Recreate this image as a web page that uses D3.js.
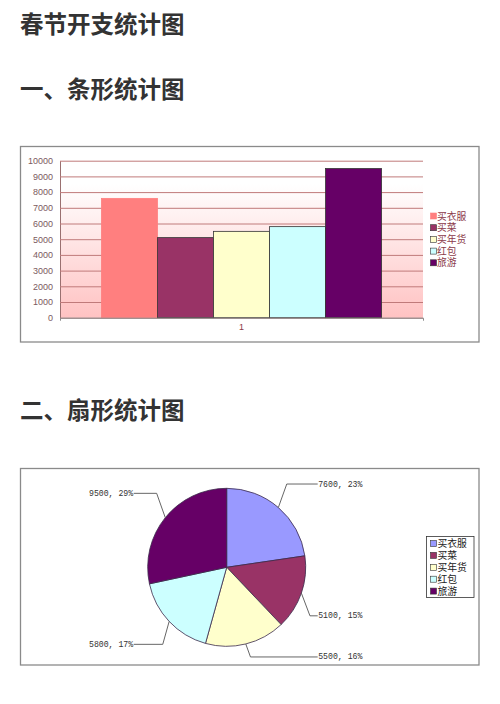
<!DOCTYPE html>
<html>
<head>
<meta charset="utf-8">
<script src="https://cdn.jsdelivr.net/npm/d3@7"></script>
<style>
  html, body { margin: 0; padding: 0; background: #fff; }
  svg { display: block; }
</style>
</head>
<body>
<div id="chart"></div>
<script>
const categories = ["买衣服", "买菜", "买年货", "红包", "旅游"];
const amounts = [7600, 5100, 5500, 5800, 9500];
const pctLabels = ["23%", "15%", "16%", "17%", "29%"];
const yTicks = [0, 1000, 2000, 3000, 4000, 5000, 6000, 7000, 8000, 9000, 10000];
const xLabels = ["1"];

const barColors = ["#ff7f7f", "#993366", "#ffffcc", "#ccffff", "#660066"];
const pieColors = ["#9999ff", "#993366", "#ffffcc", "#ccffff", "#660066"];

const W = 500, H = 704;
const cjk = "'Noto Sans CJK SC', 'Noto Sans', sans-serif";
// legend rows are tight, so a latin font with short line metrics comes first
const legendFont = "'Liberation Sans', 'Noto Sans CJK SC', sans-serif";

const svg = d3.select("#chart").append("svg")
  .attr("width", W)
  .attr("height", H)
  .attr("viewBox", `0 0 ${W} ${H}`);

// headings
const headings = [
  { text: "春节开支统计图", y: 33 },
  { text: "一、条形统计图", y: 98 },
  { text: "二、扇形统计图", y: 419 }
];
svg.selectAll("text.heading")
  .data(headings)
  .enter()
  .append("text")
  .attr("class", "heading")
  .attr("x", 20)
  .attr("y", (d) => d.y)
  .attr("fill", "#333")
  .style("font-family", cjk)
  .style("font-size", "23.5px")
  .style("font-weight", "bold")
  .text((d) => d.text);

// ---------- bar chart ----------
svg.append("rect")
  .attr("x", 20.5).attr("y", 146.5)
  .attr("width", 458.5).attr("height", 195.5)
  .attr("fill", "#fff")
  .attr("stroke", "#8a8a8a")
  .attr("stroke-width", 1.3);

const plot = { left: 60, right: 423, top: 160.7, bottom: 317.7 };

const grad = svg.append("defs")
  .append("linearGradient")
  .attr("id", "plotBg")
  .attr("x1", 0).attr("y1", 0).attr("x2", 0).attr("y2", 1);
grad.append("stop").attr("offset", "0%").attr("stop-color", "#ffffff");
grad.append("stop").attr("offset", "15%").attr("stop-color", "#ffffff");
grad.append("stop").attr("offset", "100%").attr("stop-color", "#ffc2c2");

svg.append("rect")
  .attr("x", plot.left).attr("y", plot.top)
  .attr("width", plot.right - plot.left)
  .attr("height", plot.bottom - plot.top)
  .attr("fill", "url(#plotBg)");

const yScale = d3.scaleLinear()
  .domain([0, 10000])
  .range([plot.bottom, plot.top]);

const groupScale = d3.scaleBand()
  .domain(xLabels)
  .range([plot.left, plot.right]);

const barScale = d3.scaleBand()
  .domain(categories)
  .range([0, groupScale.bandwidth()])
  .paddingOuter(0.74)
  .paddingInner(0);

const yAxisG = svg.append("g")
  .attr("transform", `translate(${plot.left},0)`)
  .call(
    d3.axisLeft(yScale)
      .tickValues(yTicks)
      .tickSizeInner(-(plot.right - plot.left))
      .tickSizeOuter(0)
      .tickPadding(7)
      .tickFormat(d3.format("d"))
  );
yAxisG.select(".domain").attr("stroke", "#9a7070").attr("stroke-width", 1);
yAxisG.selectAll(".tick line").attr("stroke", "#c07a7a").attr("stroke-width", 1);
yAxisG.selectAll(".tick text")
  .attr("fill", "#7a5a60")
  .style("font-family", "'Liberation Sans', Arial, sans-serif")
  .style("font-size", "9px");

const barG = svg.append("g")
  .attr("transform", `translate(${groupScale(xLabels[0])},0)`);
barG.selectAll("rect")
  .data(amounts)
  .enter()
  .append("rect")
  .attr("x", (d, i) => barScale(categories[i]))
  .attr("y", (d) => yScale(d))
  .attr("width", barScale.bandwidth())
  .attr("height", (d) => yScale(0) - yScale(d))
  .attr("fill", (d, i) => barColors[i])
  .attr("stroke", (d, i) => (i === 0 ? "#ff7f7f" : "#333"))
  .attr("stroke-width", 0.8);

const xAxisG = svg.append("g")
  .attr("transform", `translate(0,${plot.bottom})`)
  .call(
    d3.axisBottom(groupScale)
      .tickSizeInner(0)
      .tickSizeOuter(3)
      .tickPadding(6)
  );
xAxisG.select(".domain").attr("stroke", "#8a8a8a");
xAxisG.selectAll(".tick text")
  .attr("fill", "#8b3a4a")
  .style("font-family", "'Liberation Sans', Arial, sans-serif")
  .style("font-size", "9px");

const barLegend = svg.append("g")
  .attr("transform", "translate(430,216)");
const barItems = barLegend.selectAll("g")
  .data(categories)
  .enter()
  .append("g")
  .attr("transform", (d, i) => `translate(0,${i * 11.7})`);
barItems.append("rect")
  .attr("x", 0.5).attr("y", -3)
  .attr("width", 6).attr("height", 6)
  .attr("fill", (d, i) => barColors[i])
  .attr("stroke", (d, i) => (i === 0 ? "#ff7f7f" : "#333"))
  .attr("stroke-width", 0.6);
barItems.append("text")
  .attr("x", 7)
  .attr("y", 3.6)
  .attr("fill", "#8b3a4a")
  .style("font-family", legendFont)
  .style("font-size", "9.8px")
  .text((d) => d);

// ---------- pie chart ----------
svg.append("rect")
  .attr("x", 20.5).attr("y", 468.5)
  .attr("width", 458.5).attr("height", 196.5)
  .attr("fill", "#fff")
  .attr("stroke", "#8a8a8a")
  .attr("stroke-width", 1.3);

const cx = 226.7, cy = 567.3, radius = 79;

const pie = d3.pie().sort(null).value((d) => d);
const arc = d3.arc().innerRadius(0).outerRadius(radius);
const arcs = pie(amounts);

const pieG = svg.append("g")
  .attr("transform", `translate(${cx},${cy})`);
pieG.selectAll("path")
  .data(arcs)
  .enter()
  .append("path")
  .attr("d", arc)
  .attr("fill", (d, i) => pieColors[i])
  .attr("stroke", "#3a2a4a")
  .attr("stroke-width", 0.8);

// leader line elbows, nudged from the slice edge like the original
const elbowNudge = [[8.4, -23.5], [8.6, 22.7], [4.7, 13], [-6.4, 22.9], [-8.6, -24.3]];

const labelG = pieG.append("g");
arcs.forEach((d, i) => {
  const mid = (d.startAngle + d.endAngle) / 2;
  const ex = radius * Math.sin(mid);
  const ey = -radius * Math.cos(mid);
  const bx = ex + elbowNudge[i][0];
  const by = ey + elbowNudge[i][1];
  const right = Math.sin(mid) > 0;
  const tx = right ? 91 : -93;

  labelG.append("path")
    .attr("d", `M${ex},${ey}L${bx},${by}L${tx},${by}`)
    .attr("fill", "none")
    .attr("stroke", "#555")
    .attr("stroke-width", 0.9);

  labelG.append("text")
    .attr("x", right ? tx + 0.5 : tx - 0.5)
    .attr("y", by)
    .attr("text-anchor", right ? "start" : "end")
    .attr("dominant-baseline", "central")
    .attr("fill", "#333")
    .style("font-family", "'Liberation Mono', 'DejaVu Sans Mono', monospace")
    .style("font-size", "8.2px")
    .text(`${amounts[i]}, ${pctLabels[i]}`);
});

const pieLegend = svg.append("g");
pieLegend.append("rect")
  .attr("x", 426.5).attr("y", 536.5)
  .attr("width", 47.5).attr("height", 61)
  .attr("fill", "#fff")
  .attr("stroke", "#333")
  .attr("stroke-width", 0.8);
const pieItems = pieLegend.selectAll("g")
  .data(categories)
  .enter()
  .append("g")
  .attr("transform", (d, i) => `translate(430,${543.5 + i * 11.9})`);
pieItems.append("rect")
  .attr("x", 0.5).attr("y", -3)
  .attr("width", 6).attr("height", 6)
  .attr("fill", (d, i) => pieColors[i])
  .attr("stroke", "#333")
  .attr("stroke-width", 0.6);
pieItems.append("text")
  .attr("x", 7.5)
  .attr("y", 3.6)
  .attr("fill", "#222")
  .style("font-family", legendFont)
  .style("font-size", "9.8px")
  .text((d) => d);
</script>
</body>
</html>
